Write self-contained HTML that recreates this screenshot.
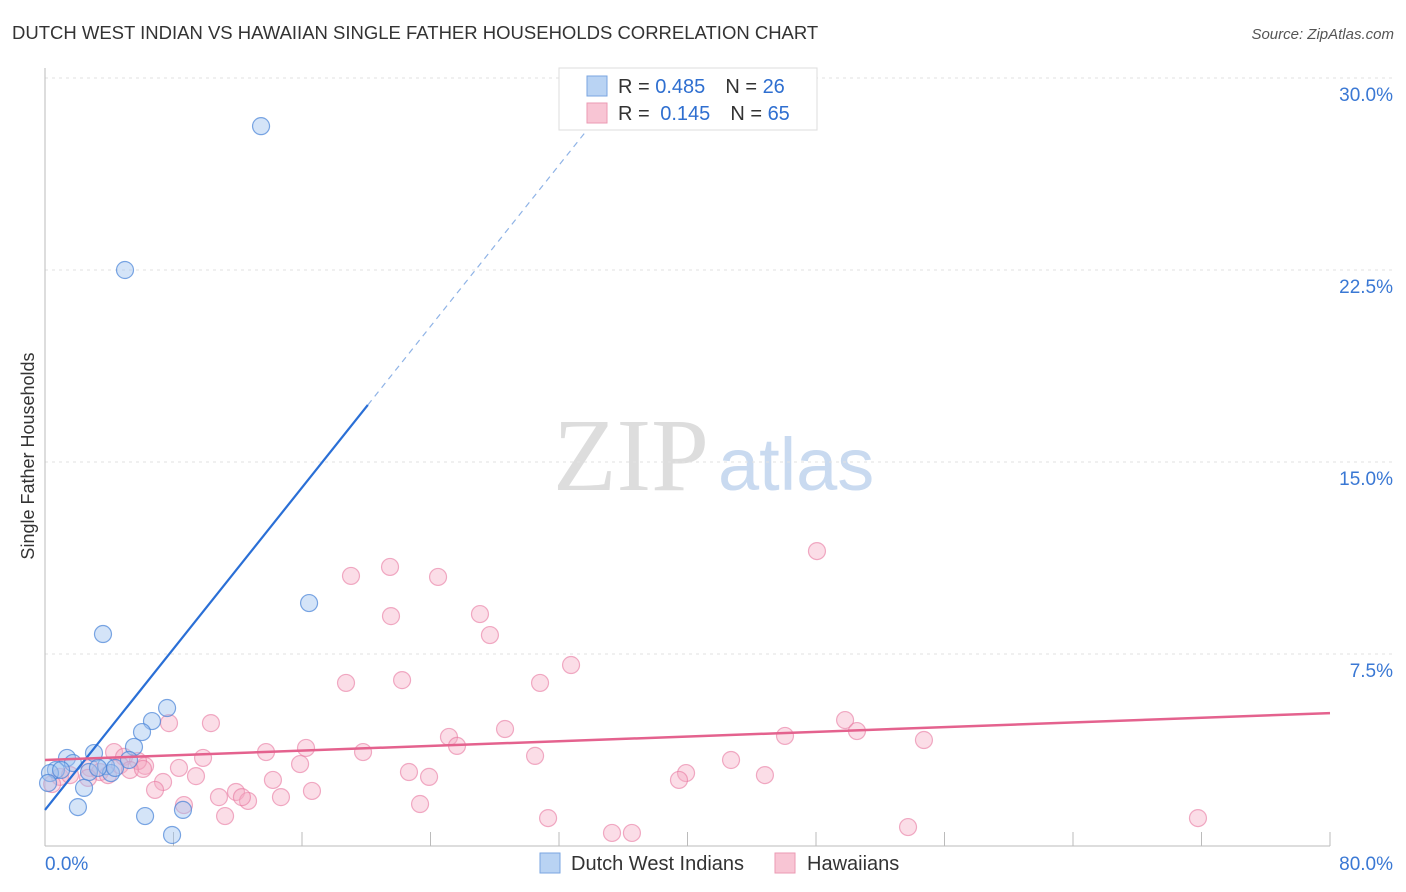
<!DOCTYPE html>
<html><head><meta charset="utf-8"><style>
body{margin:0;background:#fff;font-family:"Liberation Sans",sans-serif;}
svg{display:block}
</style></head><body>
<svg id="chart" width="1406" height="892">
<text x="12" y="39" font-size="18.5" fill="#333">DUTCH WEST INDIAN VS HAWAIIAN SINGLE FATHER HOUSEHOLDS CORRELATION CHART</text>
<text x="1394" y="39" font-size="15" fill="#555" font-style="italic" text-anchor="end">Source: ZipAtlas.com</text>
<text x="34" y="456" font-size="18" fill="#333" text-anchor="middle" transform="rotate(-90 34 456)">Single Father Households</text>
<g><text x="553" y="490" font-size="104" fill="#ddd" font-family="Liberation Serif,serif">ZIP</text><text x="718" y="490" font-size="74" fill="#c9daf0">atlas</text></g>
<g id="grid"></g><g id="axes"></g><g id="pts"></g><g id="lines"></g>
<g>
<rect x="559" y="68" width="258" height="62" fill="#fff" stroke="#ddd"/>
<rect x="587" y="76" width="20" height="20" fill="#b9d3f3" stroke="#7aa6e0"/>
<rect x="587" y="103" width="20" height="20" fill="#f8c5d4" stroke="#eb9ab3"/>
<text x="618" y="93" font-size="20" fill="#333">R = <tspan fill="#2f6fd0">0.485</tspan><tspan dx="20">N = </tspan><tspan fill="#2f6fd0">26</tspan></text>
<text x="618" y="120" font-size="20" fill="#333">R = <tspan fill="#2f6fd0" dx="5">0.145</tspan><tspan dx="20">N = </tspan><tspan fill="#2f6fd0">65</tspan></text>
</g>
<g>
<rect x="540" y="853" width="20" height="20" fill="#b9d3f3" stroke="#7aa6e0"/>
<text x="571" y="870" font-size="20" fill="#333">Dutch West Indians</text>
<rect x="775" y="853" width="20" height="20" fill="#f8c5d4" stroke="#eb9ab3"/>
<text x="807" y="870" font-size="20" fill="#333">Hawaiians</text>
</g>
</svg>
<script>
const yTicks=[7.5,15,22.5,30];
const yTickLabels=["7.5%","15.0%","22.5%","30.0%"];
const xTicks=[0,8,16,24,32,40,48,56,64,72,80];
const blueX=[13.45,4.98,16.44,3.61,7.60,6.66,6.04,5.54,3.05,1.37,1.74,3.80,0.68,0.31,1.00,2.74,4.11,4.36,5.23,2.43,2.05,6.23,8.59,7.91,0.19,3.30];
const blueY=[28.12,22.5,9.49,8.28,5.39,4.88,4.45,3.87,3.63,3.44,3.24,3.12,2.97,2.85,2.97,2.89,2.85,3.05,3.36,2.27,1.52,1.17,1.41,0.43,2.46,3.05];
const pinkPx=[[817,551],[390,567],[351,576],[438,577],[391,616],[480,614],[490,635],[571,665],[346,683],[402,680],[540,683],[169,723],[211,723],[845,720],[857,731],[924,740],[785,736],[505,729],[449,737],[457,746],[306,748],[266,752],[363,752],[535,756],[731,760],[203,758],[114,752],[124,757],[145,766],[138,761],[179,768],[300,764],[196,776],[273,780],[409,772],[429,777],[686,773],[679,780],[765,775],[163,782],[155,790],[236,792],[219,797],[248,801],[281,797],[312,791],[184,805],[420,804],[225,816],[548,818],[612,833],[632,833],[908,827],[1198,818],[90,768],[100,772],[108,775],[120,765],[60,777],[52,784],[130,770],[88,778],[70,775],[242,797],[143,769]];
const pinkX=pinkPx.map(p=>+((p[0]-45)*80/1285).toFixed(2));
const pinkY=pinkPx.map(p=>+((846-p[1])*7.5/192).toFixed(2));
const blueFit=[1.41,0.787];
const pinkFit=[3.36,0.0229];
const X=v=>45+v*1285/80, Y=v=>846-v*192/7.5;
const NS="http://www.w3.org/2000/svg";
function mk(t,a,p){const e=document.createElementNS(NS,t);for(const k in a)e.setAttribute(k,a[k]);p.appendChild(e);return e;}
const grid=document.getElementById('grid'),axes=document.getElementById('axes'),pts=document.getElementById('pts'),lines=document.getElementById('lines');
yTicks.forEach((v,i)=>{
 const l=mk('line',{x1:45,x2:1395,y1:Y(v),y2:Y(v),stroke:'#e2e2e2','stroke-dasharray':'3,4'},grid);
 
 
 const t=mk('text',{x:1393,y:Y(v)+23,'font-size':19,fill:'#3a78d4','text-anchor':'end'},grid);
 t.textContent=yTickLabels[i];
 
 
});
mk('line',{x1:45,x2:45,y1:68,y2:846,stroke:'#bbb'},axes);
mk('line',{x1:45,x2:1330,y1:846,y2:846,stroke:'#bbb'},axes);
xTicks.forEach(v=>{const l=mk('line',{x1:X(v),x2:X(v),y1:832,y2:846,stroke:'#bbb'},axes);
 
 });
let t=mk('text',{x:45,y:870,'font-size':19,fill:'#3a78d4'},axes);t.textContent='0.0%';


t=mk('text',{x:1393,y:870,'font-size':19,fill:'#3a78d4','text-anchor':'end'},axes);t.textContent='80.0%';


pinkX.forEach((x,i)=>{const c=mk('circle',{cx:X(x),cy:Y(pinkY[i]),r:8.5,fill:'rgba(245,170,195,0.4)',stroke:'rgba(232,120,160,0.6)','stroke-width':1.2},pts);
 
 });
blueX.forEach((x,i)=>{const c=mk('circle',{cx:X(x),cy:Y(blueY[i]),r:8.5,fill:'rgba(160,195,240,0.45)',stroke:'rgba(70,130,215,0.7)','stroke-width':1.2},pts);
 
 });
const bx1=20.1,bx2=34.4;
let l=mk('line',{x1:X(0),y1:Y(blueFit[0]),x2:X(bx1),y2:Y(blueFit[0]+blueFit[1]*bx1),stroke:'#2a6fd6','stroke-width':2.2},lines);


l=mk('line',{x1:X(bx1),y1:Y(blueFit[0]+blueFit[1]*bx1),x2:X(bx2),y2:Y(blueFit[0]+blueFit[1]*bx2),stroke:'#8fb3e6','stroke-width':1.2,'stroke-dasharray':'6,5'},lines);


l=mk('line',{x1:X(0),y1:Y(pinkFit[0]),x2:X(80),y2:Y(pinkFit[0]+pinkFit[1]*80),stroke:'#e4628e','stroke-width':2.5},lines);


</script>
</body></html>
